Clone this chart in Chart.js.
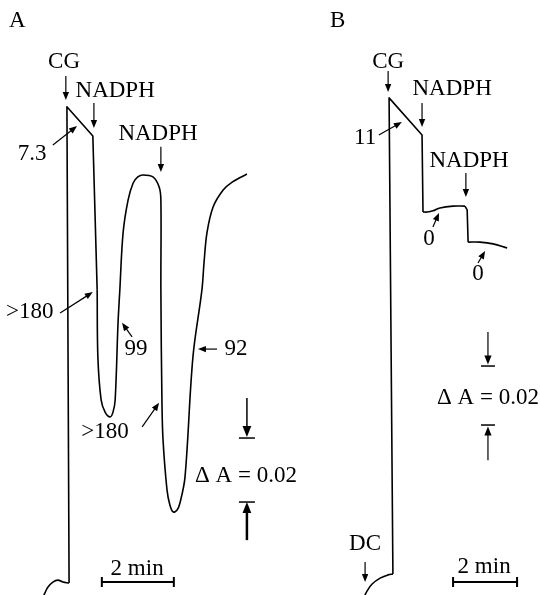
<!DOCTYPE html>
<html>
<head>
<meta charset="utf-8">
<script src="https://cdn.jsdelivr.net/npm/chart.js@4.4.0/dist/chart.umd.min.js"></script>
<style>
  html, body { margin: 0; padding: 0; background: #fff; }
  #wrap { position: relative; width: 540px; height: 595px; }
  #wrap canvas { position: absolute; left: 0; top: 0; }
</style>
</head>
<body>
<div id="wrap">
  <canvas id="traceA" width="540" height="595"></canvas>
  <canvas id="traceB" width="540" height="595"></canvas>
</div>
<script>
// Trace A : temps (min) et variation d'absorbance (mA, 1 mA = 0.001 A)
const timeA = [-0.69, -0.64, -0.56, -0.42, -0.28, -0.14, 0.03, -0.03, 0.69, 0.81, 0.83, 0.92, 1.03,
  1.17, 1.25, 1.31, 1.39, 1.44, 1.53, 1.67, 1.81, 1.94, 2.08, 2.36, 2.53, 2.58, 2.58, 2.61, 2.64,
  2.75, 2.83, 2.92, 3.03, 3.11, 3.25, 3.47, 3.72, 3.78, 3.86, 4.03, 4.31, 4.56, 4.97];
const absA = [-4.4, -3.1, -1.3, 0.3, 0.9, 0.3, 0, 148.8, 139.7, 91.6, 70.6, 57.2, 53.4,
  51.9, 53.4, 57.2, 81.3, 91.6, 109.4, 119.7, 125.0, 126.9, 127.5, 126.9, 123.8, 119.7, 91.6, 56.3, 44.7,
  29.1, 24.4, 22.2, 22.8, 25.0, 33.1, 70.6, 91.6, 100.3, 109.4, 117.5, 122.8, 125.3, 127.8];

// Trace B
const timeB = [-0.84, -0.75, -0.59, -0.34, -0.09, 0.06, -0.06, 0.97, 1.0, 1.13, 1.31, 1.53, 1.94,
  2.31, 2.38, 2.41, 2.78, 3.19, 3.63];
const absB = [-7.8, -5.8, -3.4, -1.4, -0.3, 0, 161.4, 148.8, 122.7, 122.7, 123.1, 124.1, 124.7,
  124.7, 123.4, 112.5, 112.5, 111.9, 110.5];

// Morceaux du tracé : [début, fin, tension] (angles vifs aux injections)
const piecesA = [[0, 6, 0.4], [6, 9, 0], [9, 42, 0.35]];
const piecesB = [[0, 5, 0.4], [5, 8, 0], [8, 13, 0.35], [13, 15, 0], [15, 18, 0.35]];

// Annotations (texte, flèches, échelles) en unités de données
const notesA = {
  labels: [
    { text: "A", x: -1.64, y: 173.8, align: "left" },
    { text: "CG", x: -0.11, y: 160.9 },
    { text: "NADPH", x: 1.31, y: 151.9 },
    { text: "NADPH", x: 2.5, y: 138.4 },
    { text: "7.3", x: -1.0, y: 132.2 },
    { text: ">180", x: -1.06, y: 82.8 },
    { text: "99", x: 1.89, y: 71.3 },
    { text: "92", x: 4.67, y: 71.3 },
    { text: ">180", x: 1.03, y: 45.3 },
    { text: "\u0394 A = 0.02", x: 3.53, y: 31.6, align: "left" },
    { text: "2 min", x: 1.92, y: 2.5 },
  ],
  arrows: [
    { x1: -0.06, y1: 158.4, x2: -0.06, y2: 150.9 },
    { x1: 0.72, y1: 150.0, x2: 0.72, y2: 142.2 },
    { x1: 2.58, y1: 136.3, x2: 2.58, y2: 128.4 },
    { x1: -0.42, y1: 136.9, x2: 0.25, y2: 142.8 },
    { x1: -0.22, y1: 84.4, x2: 0.69, y2: 90.9 },
    { x1: 1.78, y1: 76.9, x2: 1.5, y2: 81.3 },
    { x1: 4.14, y1: 73.1, x2: 3.61, y2: 73.1 },
    { x1: 2.06, y1: 48.8, x2: 2.53, y2: 56.3 },
    { x1: 4.97, y1: 57.8, x2: 4.97, y2: 45.6, head: 11, width: 1.5 },
    { x1: 4.97, y1: 13.4, x2: 4.97, y2: 25.3, head: 11, width: 2.5 },
  ],
  caps: [
    { x: 4.97, y: 45.3, half: 8 },
    { x: 4.97, y: 25.3, half: 8 },
  ],
  timeBar: { x1: 0.94, x2: 2.94, y: 0.3 },
};

const notesB = {
  labels: [
    { text: "B", x: -1.91, y: 185.4, align: "left" },
    { text: "CG", x: -0.09, y: 171.5 },
    { text: "NADPH", x: 1.91, y: 162.4 },
    { text: "NADPH", x: 2.44, y: 138.0 },
    { text: "11", x: -0.81, y: 145.8 },
    { text: "0", x: 1.19, y: 111.5 },
    { text: "0", x: 2.72, y: 99.7 },
    { text: "\u0394 A = 0.02", x: 1.44, y: 57.6, align: "left" },
    { text: "DC", x: -0.81, y: 8.1 },
    { text: "2 min", x: 2.91, y: 0.3 },
  ],
  arrows: [
    { x1: -0.09, y1: 170.5, x2: -0.09, y2: 163.4 },
    { x1: 0.97, y1: 159.7, x2: 0.97, y2: 151.5 },
    { x1: 2.34, y1: 135.9, x2: 2.34, y2: 127.8 },
    { x1: -0.38, y1: 148.8, x2: 0.34, y2: 153.2 },
    { x1: 1.31, y1: 117.6, x2: 1.5, y2: 122.4 },
    { x1: 2.72, y1: 105.4, x2: 2.94, y2: 109.5 },
    { x1: 3.03, y1: 82.0, x2: 3.03, y2: 71.0, head: 9 },
    { x1: 3.03, y1: 38.6, x2: 3.03, y2: 50.0, head: 9 },
    { x1: -0.81, y1: 4.1, x2: -0.81, y2: -2.7 },
  ],
  caps: [
    { x: 3.03, y: 70.5, half: 7 },
    { x: 3.03, y: 50.5, half: 7 },
  ],
  timeBar: { x1: 1.94, x2: 3.94, y: -2.7 },
};

function drawArrow(ctx, x1, y1, x2, y2, head, lw) {
  const ang = Math.atan2(y2 - y1, x2 - x1);
  const c = Math.cos(ang), s = Math.sin(ang);
  const w = head * 0.4;
  ctx.lineWidth = lw;
  ctx.beginPath();
  ctx.moveTo(x1, y1);
  ctx.lineTo(x2 - c * head * 0.7, y2 - s * head * 0.7);
  ctx.stroke();
  ctx.beginPath();
  ctx.moveTo(x2, y2);
  ctx.lineTo(x2 - c * head - s * w, y2 - s * head + c * w);
  ctx.lineTo(x2 - c * head + s * w, y2 - s * head - c * w);
  ctx.closePath();
  ctx.fill();
}

const notesPlugin = {
  id: "notes",
  afterDatasetsDraw(chart, args, opts) {
    const ctx = chart.ctx;
    const px = (v) => chart.scales.x.getPixelForValue(v);
    const py = (v) => chart.scales.y.getPixelForValue(v);
    ctx.save();
    ctx.fillStyle = "#000";
    ctx.strokeStyle = "#000";
    ctx.font = '23px "Liberation Serif", "Times New Roman", serif';
    ctx.textBaseline = "alphabetic";
    opts.labels.forEach((l) => {
      ctx.textAlign = l.align || "center";
      ctx.fillText(l.text, px(l.x), py(l.y));
    });
    opts.arrows.forEach((a) => {
      drawArrow(ctx, px(a.x1), py(a.y1), px(a.x2), py(a.y2), a.head || 8, a.width || 1.2);
    });
    ctx.lineWidth = 1.5;
    opts.caps.forEach((c) => {
      ctx.beginPath();
      ctx.moveTo(px(c.x) - c.half, py(c.y));
      ctx.lineTo(px(c.x) + c.half, py(c.y));
      ctx.stroke();
    });
    // barre de temps (2 min)
    const t = opts.timeBar;
    const ty = py(t.y);
    ctx.lineWidth = 2;
    ctx.beginPath();
    ctx.moveTo(px(t.x1), ty);
    ctx.lineTo(px(t.x2), ty);
    ctx.moveTo(px(t.x1), ty - 5);
    ctx.lineTo(px(t.x1), ty + 5);
    ctx.moveTo(px(t.x2), ty - 5);
    ctx.lineTo(px(t.x2), ty + 5);
    ctx.stroke();
    ctx.restore();
  },
};

function traceChart(id, times, values, pieces, xRange, yRange, notes) {
  const points = times.map((t, i) => ({ x: t, y: values[i] }));
  const datasets = pieces.map(([from, to, tension]) => ({
    data: points.slice(from, to + 1),
    showLine: true,
    borderColor: "#000",
    borderWidth: 1.6,
    borderJoinStyle: "round",
    pointRadius: 0,
    tension: tension,
    fill: false,
  }));
  return new Chart(document.getElementById(id), {
    type: "scatter",
    data: { datasets: datasets },
    options: {
      responsive: false,
      animation: false,
      events: [],
      layout: { padding: 0 },
      plugins: {
        legend: { display: false },
        tooltip: { enabled: false },
        notes: notes,
      },
      scales: {
        x: { type: "linear", display: false, min: xRange[0], max: xRange[1] },
        y: { type: "linear", display: false, min: yRange[0], max: yRange[1] },
      },
    },
    plugins: [notesPlugin],
  });
}

traceChart("traceA", timeA, absA, piecesA, [-1.8889, 13.1111], [-3.75, 182.1875], notesA);
traceChart("traceB", timeB, absB, piecesB, [-12.21875, 4.65625], [-7.1186, 194.576], notesB);
</script>
</body>
</html>
